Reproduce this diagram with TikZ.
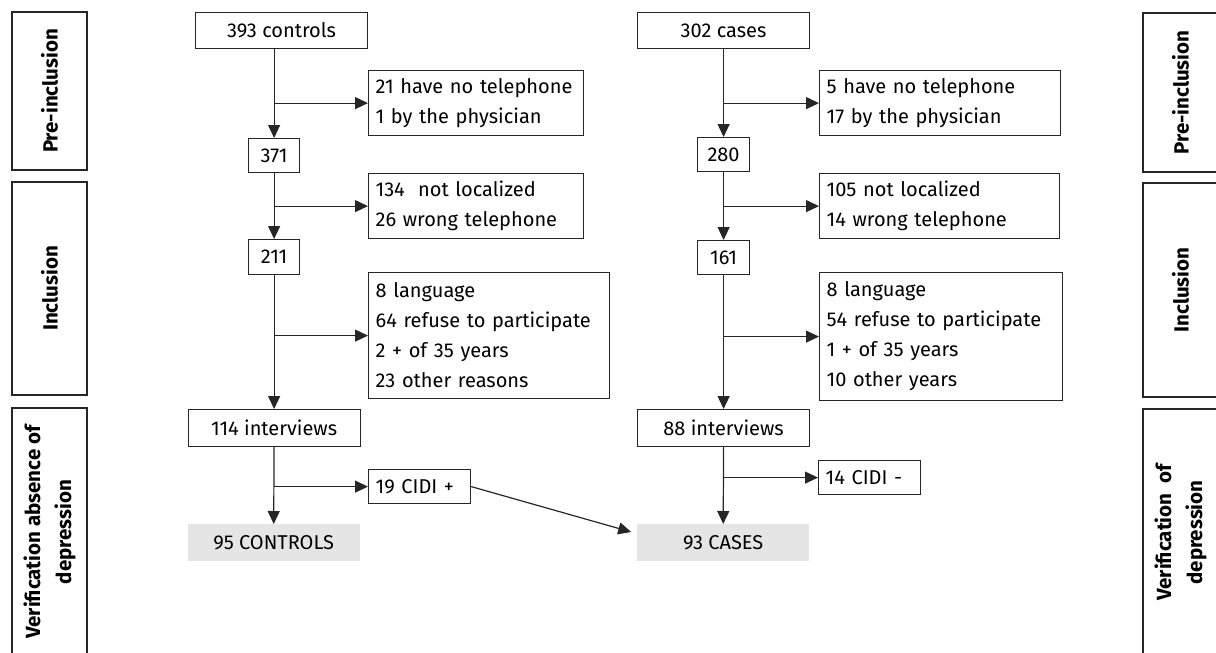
\documentclass[tikz,border=0pt]{standalone}
\usepackage{fontspec}
\setmainfont{Fira Sans}
\usetikzlibrary{arrows.meta,positioning}
\hyphenpenalty=10000

\tikzset{
  every node/.style={font=\fontsize{20pt}{30pt}\selectfont},
  box/.style={draw=black!85, line width=1.2pt, inner sep=0pt},
  countbox/.style={box, anchor=north west},
  listbox/.style={box, anchor=north west, align=left, inner xsep=7pt},
  finalbox/.style={fill=black!10, anchor=north west, inner sep=0pt},
  phasebox/.style={draw=black!85, line width=1.2pt, rotate=90, align=center,
    font=\fontsize{20.5pt}{31pt}\selectfont\bfseries},
  flow/.style={-{Triangle[length=13pt,width=12pt]}, line width=1.2pt, draw=black!85},
}

\begin{document}
\begin{tikzpicture}[x=1pt,y=-1pt]
  \useasboundingbox (0,0) rectangle (1216,653);

  % phase labels, left and right
  \node[phasebox, minimum width=158pt, minimum height=75pt] (preL) at (49.5,91) {Pre-inclusion};
  \node[phasebox, minimum width=213pt, minimum height=75pt] (incL) at (49.5,288.5) {Inclusion};
  \node[phasebox, minimum width=248pt, minimum height=75pt] (verL) at (49.5,532) {Verification absence of\\depression};
  \node[phasebox, minimum width=159pt, minimum height=75pt] (preR) at (1180.5,92.5) {Pre-inclusion};
  \node[phasebox, minimum width=214pt, minimum height=75pt] (incR) at (1180.5,290) {Inclusion};
  \node[phasebox, minimum width=247pt, minimum height=75pt] (verR) at (1180.5,532.5) {Verification~~of\\depression};

  % controls column
  \node[countbox, minimum width=172pt, minimum height=36pt] (c393) at (195,12) {393 controls};
  \node[countbox, minimum width=51pt, minimum height=34pt] (c371) at (248,138) {371};
  \node[countbox, minimum width=51pt, minimum height=35pt] (c211) at (248,239) {211};
  \node[countbox, minimum width=172pt, minimum height=37pt] (int114) at (187.5,409) {114 interviews};
  \node[finalbox, minimum width=172pt, minimum height=37pt] (fin95) at (187.5,524) {95 CONTROLS};

  \node[listbox, text width=201pt, minimum height=65pt] (noTelL) at (368,70) {21 have no telephone\\1 by the physician};
  \node[listbox, text width=201pt, minimum height=65pt] (locL) at (368,173) {134~ not localized\\26 wrong telephone};
  \node[listbox, text width=227pt, minimum height=126pt] (refL) at (368,272)
    {8 language\\64 refuse to participate\\2 + of 35 years\\23 other reasons};
  \node[listbox, text width=88pt, minimum height=34pt] (cidiL) at (368,469) {19 CIDI +};

  % cases column
  \node[countbox, minimum width=172pt, minimum height=36pt] (c302) at (637,12) {302 cases};
  \node[countbox, minimum width=52pt, minimum height=34pt] (c280) at (697,137) {280};
  \node[countbox, minimum width=52pt, minimum height=34pt] (c161) at (697,240) {161};
  \node[countbox, minimum width=172pt, minimum height=37pt] (int88) at (637,409) {88 interviews};
  \node[finalbox, minimum width=172pt, minimum height=37pt] (fin93) at (637,524) {93 CASES};

  \node[listbox, text width=227pt, minimum height=65pt] (noTelR) at (819,70) {5 have no telephone\\17 by the physician};
  \node[listbox, text width=226pt, minimum height=65pt] (locR) at (819,173) {105 not localized\\14 wrong telephone};
  \node[listbox, text width=229pt, minimum height=128pt] (refR) at (819,272)
    {8 language\\54 refuse to participate\\1 + of 35 years\\10 other years};
  \node[listbox, text width=88pt, minimum height=34pt] (cidiR) at (818,460) {14 CIDI -};

  % flow of the controls
  \draw[flow] (c371 |- c393.south) -- (c371.north);
  \draw[flow] (noTelL.west -| c371) -- (noTelL.west);
  \draw[flow] (c371.south) -- (c211.north);
  \draw[flow] (locL.west -| c371) -- (locL.west);
  \draw[flow] (c211.south) -- (c211 |- int114.north);
  \draw[flow] (refL.west -| c211) -- (refL.west);
  \draw[flow] (int114.south) -- (fin95.north);
  \draw[flow] (cidiL.west -| int114) -- (cidiL.west);

  % flow of the cases
  \draw[flow] (c280 |- c302.south) -- (c280.north);
  \draw[flow] (noTelR.west -| c280) -- (noTelR.west);
  \draw[flow] (c280.south) -- (c161.north);
  \draw[flow] (locR.west -| c280) -- (locR.west);
  \draw[flow] (c161.south) -- (c161 |- int88.north);
  \draw[flow] (refR.west -| c161) -- (refR.west);
  \draw[flow] (int88.south) -- (fin93.north);
  \draw[flow] (cidiR.west -| int88) -- (cidiR.west);

  % CIDI + controls go to the cases
  \draw[flow, shorten >=6pt] (cidiL.east) -- (fin93.174);
\end{tikzpicture}
\end{document}
